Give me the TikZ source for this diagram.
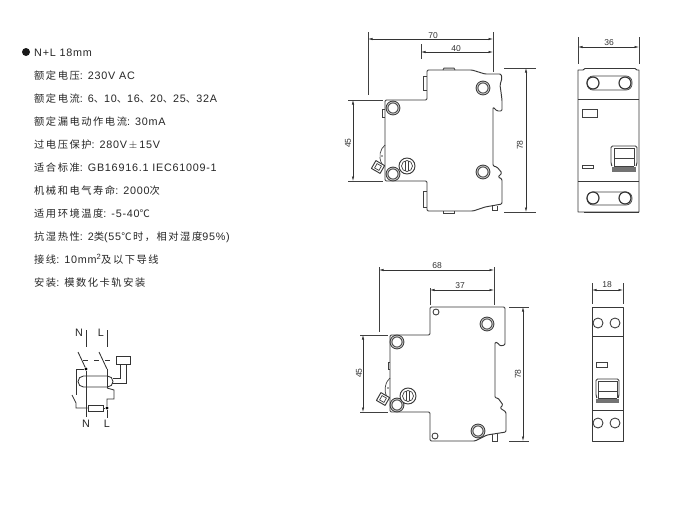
\documentclass[tikz,border=0pt]{standalone}
\usepackage{fontspec}
\setmainfont[LetterSpace=7]{Liberation Sans}
\newfontfamily\cjk[LetterSpace=15,Scale=0.95]{Noto Sans CJK SC}
\newfontfamily\dimfont{Liberation Sans}
\newcommand{\zh}[1]{{\cjk #1}}
\usetikzlibrary{calc,positioning,arrows.meta}

\begin{document}
\begin{tikzpicture}[
                x=1pt,y=-1pt,
                outline/.style={draw=black!78,line width=0.95pt,line join=round},
                body/.style={outline,rounded corners=1.2pt},
                thin line/.style={draw=black!75,line width=0.7pt},
                dimline/.style={draw=black!80,line width=0.55pt,{Latex[length=4.5pt,width=2.4pt]}-{Latex[length=4.5pt,width=2.4pt]}},
                extline/.style={draw=black!75,line width=0.7pt},
                dimtext/.style={font=\dimfont\fontsize{8.5}{10}\selectfont,text=black!80,inner sep=0pt},
                spec/.style={anchor=base west,font=\fontsize{10.8}{12}\selectfont,text=black!85,inner sep=0pt},
                screw/.style={circle,draw=black!78,line width=0.9pt,double=black!25,double distance=0.9pt,fill=white,inner sep=0pt,minimum size=12pt},
                ring/.style={circle,draw=black!78,line width=1.2pt,fill=white,inner sep=0pt,minimum size=12pt},
                hole/.style={circle,draw=black!78,line width=0.85pt,fill=white,inner sep=0pt},
                dial/.style={circle,draw=black!78,line width=0.95pt,fill=white,inner sep=0pt,minimum size=16pt},
                junction/.style={circle,fill=black,inner sep=0pt,minimum size=3.2pt},
                wire/.style={draw=black!80,line width=0.85pt}
            ]
    \useasboundingbox (0,0) rectangle (700,504);
    \fill[white] (0,0) rectangle (700,504);

    % spec list
    \node (bullet) [circle,fill=black!90,inner sep=0pt,minimum size=8pt] at (26,52) {};
    \node (s0) [spec] at (34,56)  {N+L 18mm};
    \node (s1) [spec] at (34,79)  {\zh{额定电压}: 230V AC};
    \node (s2) [spec] at (34,102) {\zh{额定电流}: 6\zh{、}10\zh{、}16\zh{、}20\zh{、}25\zh{、}32A};
    \node (s3) [spec] at (34,125) {\zh{额定漏电动作电流}: 30mA};
    \node (s4) [spec] at (34,148) {\zh{过电压保护}: 280V\,$\pm$\,15V};
    \node (s5) [spec] at (34,171) {\zh{适合标准}: GB16916.1 IEC61009-1};
    \node (s6) [spec] at (34,194) {\zh{机械和电气寿命}: 2000\zh{次}};
    \node (s7) [spec] at (34,217) {\zh{适用环境温度}: -5-40\zh{℃}};
    \node (s8) [spec] at (34,240) {\zh{抗湿热性}: 2\zh{类}(55\zh{℃时，相对湿度}95\%)};
    \node (s9) [spec] at (34,263) {\zh{接线}: 10mm\textsuperscript{2}\zh{及以下导线}};
    \node (s10) [spec] at (34,286) {\zh{安装}: \zh{模数化卡轨安装}};

    % upper side view
    \draw[body] (427,76) -- (427,70) -- (472,70) -- (485,74) -- (501,74) -- (502,78) -- (500,85)
        -- (501,92) -- (502,100) -- (502,111) -- (497,111) -- (493,107) -- (493,166) -- (497,167) -- (502,173)
        -- (498,177) -- (502,179) -- (502,204) -- (485,207) -- (473,211) -- (427,211)
        -- (427,181) -- (385,181) -- (385,100) -- (427,100) -- cycle;
    \draw[thin line] (427,76) -- (423,76) -- (423,90) -- (427,90);
    \draw[thin line] (427,191) -- (423,191) -- (423,207) -- (427,207);
    \draw[thin line] (385,109) -- (382,109) -- (382,117) -- (385,117);
    \draw[thin line,fill=black!30] (443,70) -- (444,68) -- (454,68) -- (455,70);
    \draw[thin line] (443,211) -- (443,213) -- (454,213) -- (454,211);
    \draw[thin line] (492,206) -- (492,210) -- (497,210) -- (497,206);
    \draw[thin line] (385,145) .. controls (380,149) and (378,157) .. (382,164);
    \fill[black!70] (382,156) circle (0.8);
    \draw[outline,rotate around={-30:(378,167)},fill=white] (373,162.5) rectangle (383,171.5);
    \draw[thin line,rotate around={-30:(378,167)}] (375.5,164.5) rectangle (380.5,169.5);
    \node (uscrew1) [screw] at (483,88)  {};
    \node (uscrew2) [screw] at (483,172) {};
    \node (uscrew3) [screw] at (393,108) {};
    \node (uscrew4) [screw] at (393,174) {};
    \node (udial)   [dial]  at (407,166) {};
    \draw[thin line] (udial.center) circle (5.5);
    \draw[thin line] (405.5,161) -- (405.5,171) (408.5,161) -- (408.5,171);

    % upper side dimensions
    \draw[extline] (368,32) -- (368,95);
    \draw[extline] (493,32) -- (493,72);
    \draw[extline] (421,44) -- (421,59);
    \draw[dimline] (368,39) -- (493,39);
    \draw[dimline] (421,52) -- (493,52);
    \node (u70) [dimtext] at (433,36) {70};
    \node (u40) [dimtext] at (456,49) {40};
    \draw[extline] (504,68) -- (536,68);
    \draw[extline] (504,212) -- (536,212);
    \draw[dimline] (526,68) -- (526,212);
    \node (u78) [dimtext,rotate=90] at (520,145) {78};
    \draw[extline] (348,100) -- (383,100);
    \draw[extline] (348,181) -- (383,181);
    \draw[dimline] (353,100) -- (353,181);
    \node (u45) [dimtext,rotate=90] at (348,143) {45};

    % upper front view
    \draw[outline] (578,212) -- (578,70) -- (583,70) -- (585,68.5) -- (635,68.5) -- (637,70) -- (639,70) -- (639,212) -- cycle;
    \draw[outline,line width=1.3pt] (585,68.5) -- (635,68.5);
    \draw[outline,line width=1.3pt] (584,212.5) -- (639,212.5);
    \draw[outline] (578,99) -- (639,99);
    \draw[outline] (578,181) -- (639,181);
    \draw[thin line,rounded corners=6pt] (587,76) rectangle (632,90);
    \draw[thin line,rounded corners=6pt] (587,192) rectangle (632,205);
    \node (fscrew1) [ring] at (593,83)  {};
    \node (fscrew2) [ring] at (625,83)  {};
    \node (fscrew3) [ring] at (593,198) {};
    \node (fscrew4) [ring] at (625,198) {};
    \draw[thin line] (582,109) rectangle (597,117);
    \draw[thin line] (582,165) rectangle (593,168);
    \draw[outline,rounded corners=1.5pt] (612,166) -- (611,164) -- (611,146) -- (637,146) -- (637,164) -- (636,166);
    \draw[thin line] (614,166) -- (614,148) -- (634,148) -- (634,166);
    \draw[thin line] (614,158) -- (634,158);
    \draw[thin line] (614,166) -- (634,166);
    \fill[black!55] (612,167) rectangle (636,172);

    \draw[extline] (578,37) -- (578,64);
    \draw[extline] (639,37) -- (639,64);
    \draw[dimline] (578,47) -- (639,47);
    \node (f36) [dimtext] at (609,43) {36};

    % lower side view
    \draw[body] (430,307) -- (505,307) -- (505,345) -- (500,346) -- (498,343) -- (495,342) -- (495,398)
        -- (498,398) -- (503,405) -- (500,408) -- (506,412) -- (506,432) -- (487,435) -- (475,441)
        -- (430,441) -- (430,412) -- (390,412) -- (390,335) -- (430,335) -- cycle;
    \draw[thin line] (390,362) -- (388,362) -- (388,369) -- (390,369);
    \draw[thin line] (492,433.5) -- (492,441) -- (497,441) -- (497,433);
    \draw[thin line] (390,378) .. controls (386,381) and (383,390) .. (387,397);
    \fill[black!70] (388,388) circle (0.8);
    \draw[outline,rotate around={-30:(383,399)},fill=white] (378,394.5) rectangle (388,403.5);
    \draw[thin line,rotate around={-30:(383,399)}] (380.5,396.5) rectangle (385.5,401.5);
    \node (lhole1)  [hole,minimum size=6pt] at (436,312) {};
    \node (lhole2)  [hole,minimum size=6pt] at (435,436) {};
    \node (lscrew1) [screw] at (487,324) {};
    \node (lscrew2) [screw] at (397,342) {};
    \node (lscrew3) [screw] at (397,405) {};
    \node (lscrew4) [screw] at (478,431) {};
    \node (ldial)   [dial]  at (408,396) {};
    \draw[thin line] (ldial.center) circle (5.5);
    \draw[thin line] (406.5,391) -- (406.5,401) (409.5,391) -- (409.5,401);

    % lower side dimensions
    \draw[extline] (379,267) -- (379,332);
    \draw[extline] (494,267) -- (494,305);
    \draw[extline] (430,288) -- (430,305);
    \draw[dimline] (379,270) -- (494,270);
    \draw[dimline] (430,290) -- (494,290);
    \node (l68) [dimtext] at (437,266) {68};
    \node (l37) [dimtext] at (460,286) {37};
    \draw[extline] (509,307) -- (529,307);
    \draw[extline] (509,441) -- (529,441);
    \draw[dimline] (523,307) -- (523,441);
    \node (l78) [dimtext,rotate=90] at (518,374) {78};
    \draw[extline] (360,335) -- (388,335);
    \draw[extline] (360,412) -- (388,412);
    \draw[dimline] (363,335) -- (363,412);
    \node (l45) [dimtext,rotate=90] at (359,373) {45};

    % lower front view
    \draw[outline] (592,307) rectangle (623,441);
    \draw[outline] (592,336) -- (623,336);
    \draw[outline] (592,410) -- (623,410);
    \node (bhole1) [hole,minimum size=10pt] at (598,323) {};
    \node (bhole2) [hole,minimum size=10pt] at (615,323) {};
    \node (bhole3) [hole,minimum size=10pt] at (598,423) {};
    \node (bhole4) [hole,minimum size=10pt] at (615,423) {};
    \draw[thin line] (596,362) rectangle (607,367);
    \draw[outline,rounded corners=1.5pt] (597,398) -- (596,396) -- (596,379) -- (619,379) -- (619,396) -- (618,398);
    \draw[thin line] (598,398) -- (598,381) -- (617,381) -- (617,398);
    \draw[thin line] (598,391) -- (617,391);
    \draw[thin line] (598,398) -- (617,398);
    \fill[black!55] (596,399) rectangle (619,403);

    \draw[extline] (592,283) -- (592,304);
    \draw[extline] (623,283) -- (623,304);
    \draw[dimline] (592,290) -- (623,290);
    \node (b18) [dimtext] at (607,285) {18};

    % wiring symbol
    \node (nt) [spec,anchor=center] at (79,333) {N};
    \node (lt) [spec,anchor=center] at (101,333) {L};
    \node (nb) [spec,anchor=center] at (86,424) {N};
    \node (lb) [spec,anchor=center] at (107,424) {L};
    \coordinate (n1) at (86,347);
    \coordinate (l1) at (107,347);
    \coordinate (n2) at (86,417);
    \coordinate (l2) at (107,418);
    \draw[wire] (86,330) -- (n1);
    \draw[wire] (107,330) -- (l1);
    \node (ndot) [junction] at (86,369) {};
    \node (ldot) [junction] at (107,408) {};
    \node (relay) [draw=black!80,line width=0.85pt,minimum width=14pt,minimum height=8pt,inner sep=0pt] at (123,360) {};
    \node (res) [draw=black!80,line width=0.85pt,minimum width=15pt,minimum height=6pt,inner sep=0pt] at (95.5,408) {};
    \draw[wire] (78,352) -- (ndot);
    \draw[wire] (99,352) -- (107,369);
    \draw[wire,dash pattern=on 5pt off 6pt] (83,360) -- (relay.west);
    \draw[wire] (ndot) -- (n2);
    \draw[wire] (ndot) -- (76,369) -- (76,395);
    \draw[wire] (72,395) -- (76,403) -- (76,408) -- (res.west);
    \draw[wire] (res.east) -- (ldot) -- (l2);
    \draw[wire] (107,369) -- (107,388);
    \draw[wire] (107,388) -- (114,390) -- (114,399) -- (107,399) -- (ldot);
    \draw[wire,rounded corners=5.5pt] (78,376) rectangle (113,387);
    \draw[wire] (113,378) -- (120,378) -- (120,364);
    \draw[wire] (112,383) -- (126,383) -- (126,364);
\end{tikzpicture}
\end{document}
